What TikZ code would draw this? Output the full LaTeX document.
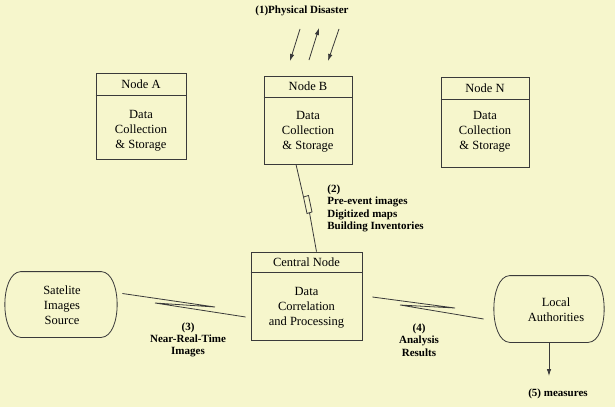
\documentclass[tikz,border=0pt]{standalone}
\usepackage{fontspec}
\setmainfont{Liberation Serif}
\newfontfamily\serifx{Liberation Serif}
\usetikzlibrary{arrows.meta,calc}
\definecolor{bg}{HTML}{F6F6CC}
\definecolor{ink}{HTML}{3A3A3A}
\begin{document}
\begin{tikzpicture}[x=1pt,y=-1pt,
  line width=0.8pt,
  font=\serifx,
  box/.style={draw=ink, inner sep=0pt},
  hdr/.style={font=\serifx\fontsize{12.5}{14}\selectfont, inner sep=0pt},
  body/.style={align=center, font=\serifx\fontsize{12.5}{15}\selectfont, inner sep=0pt},
  lbl/.style={font=\serifx\bfseries\fontsize{11}{12.3}\selectfont, inner sep=0pt},
  wire/.style={draw=ink, line width=0.8pt},
  arr/.style={draw=ink, line width=0.8pt, -{Latex[length=7pt,width=4.5pt]}}
]
\fill[bg] (0,0) rectangle (615,407);
\useasboundingbox (0,0) rectangle (615,407);

% title
\node[lbl] (title) at (302,11) {(1)Physical Disaster};
\coordinate (d1s) at (300,29); \coordinate (d1e) at (290,61);
\coordinate (d2s) at (309,60); \coordinate (d2e) at (319,28);
\coordinate (d3s) at (339,29); \coordinate (d3e) at (328,61);
\draw[arr] (d1s) -- (d1e);
\draw[arr] (d2s) -- (d2e);
\draw[arr] (d3s) -- (d3e);

% Node A
\node[box, minimum width=90pt, minimum height=86pt] (A) at (141,116) {};
\draw[ink] ($(A.north west)+(0,23)$) -- ($(A.north east)+(0,23)$);
\node[hdr] (Ah) at ($(A.north)+(0,11.5)$) {Node A};
\node[body] (Ab) at (141,131) {Data\\Collection\\\&\ Storage};

% Node B
\node[box, minimum width=88pt, minimum height=88pt] (B) at (308,120) {};
\draw[ink] ($(B.north west)+(0,22)$) -- ($(B.north east)+(0,22)$);
\node[hdr] (Bh) at ($(B.north)+(0,11)$) {Node B};
\node[body] (Bb) at (308,132) {Data\\Collection\\\&\ Storage};

% Node N
\node[box, minimum width=88pt, minimum height=90pt] (N) at (485,122) {};
\draw[ink] ($(N.north west)+(0,23)$) -- ($(N.north east)+(0,23)$);
\node[hdr] (Nh) at ($(N.north)+(0,11.5)$) {Node N};
\node[body] (Nb) at (485,132) {Data\\Collection\\\&\ Storage};

% Central node
\node[box, minimum width=111pt, minimum height=88pt] (cen) at (306.5,296) {};
\draw[ink] ($(cen.north west)+(0,21)$) -- ($(cen.north east)+(0,21)$);
\node[hdr] (ch) at ($(cen.north)+(0,10.5)$) {Central Node};
\node[body] (cb) at (306.5,307.5) {Data\\Correlation\\and Processing};

% Satellite
\node[minimum width=112pt, minimum height=65pt, inner sep=0pt] (sat) at (61,304.5) {};
\draw[ink] ($(sat.north west)+(16,0)$) -- ($(sat.north east)+(-16,0)$)
  .. controls ($(sat.north east)+(5,1)$) and ($(sat.south east)+(5,-1)$) .. ($(sat.south east)+(-16,0)$)
  -- ($(sat.south west)+(16,0)$)
  .. controls ($(sat.south west)+(-5,-1)$) and ($(sat.north west)+(-5,1)$) .. cycle;
\node[body] (satt) at (62,305.5) {Satelite\\Images\\Source};

% Local authorities
\node[minimum width=110pt, minimum height=66pt, inner sep=0pt] (loc) at (549,309) {};
\draw[ink] ($(loc.north west)+(16,0)$) -- ($(loc.north east)+(-16,0)$)
  .. controls ($(loc.north east)+(5,1)$) and ($(loc.south east)+(5,-1)$) .. ($(loc.south east)+(-16,0)$)
  -- ($(loc.south west)+(16,0)$)
  .. controls ($(loc.south west)+(-5,-1)$) and ($(loc.north west)+(-5,1)$) .. cycle;
\node[body] (loct) at (556,309.5) {Local\\Authorities};

% lightning links
\coordinate (z1a) at (215,307); \coordinate (z1b) at (155,303);
\draw[wire] ($(sat.east)+(5,-11)$) -- (z1a) -- (z1b) -- ($(cen.west)+(-5,21)$);
\coordinate (z2a) at (455,308); \coordinate (z2b) at (400,305);
\draw[wire] ($(cen.east)+(10,1)$) -- (z2a) -- (z2b) -- ($(loc.west)+(-10,10)$);
\coordinate (z3a) at (303.5,197); \coordinate (z3b) at (308.5,195.5);
\coordinate (z3c) at (312,212); \coordinate (z3d) at (307,213.5);
\draw[wire] ($(B.south)+(-12,0)$) -- (z3a) -- (z3b) -- (z3c) -- (z3d) -- (z3a);
\draw[wire] ($(z3c)!0.5!(z3d)$) -- ($(cen.north)+(10,0)$);

% labels
\node[lbl, align=left, anchor=west] (l2) at (327,208.5) {(2)\\Pre-event images\\Digitized maps\\Building Inventories};
\node[lbl, align=center] (l3) at (188,340) {(3)\\Near-Real-Time\\Images};
\node[lbl, align=center] (l4) at (419,340) {(4)\\Analysis\\Results};

% measures
\coordinate (mend) at (549,376);
\draw[arr] (loc.south) -- (mend);
\node[lbl] (l5) at (558,394) {(5) measures};
\end{tikzpicture}
\end{document}
